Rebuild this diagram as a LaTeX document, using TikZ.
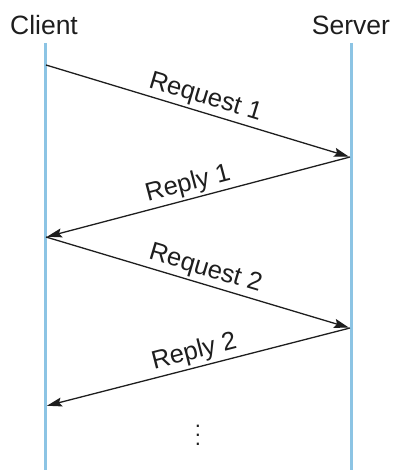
\documentclass[tikz,border=0pt]{standalone}
\usepackage{fontspec}
\setmainfont{Liberation Sans}
\usetikzlibrary{arrows.meta}
\definecolor{lifeblue}{RGB}{140,196,228}
\definecolor{inkc}{RGB}{30,30,30}
\tikzset{
  lifeline/.style={draw=lifeblue, line width=3pt},
  msg/.style={draw=inkc, line width=1.3pt, -{Stealth[length=15pt,width=9pt,inset=2.5pt]}, shorten >=1pt},
  msglabel/.style={sloped, above, font=\fontsize{25.5}{30}\selectfont, text=inkc, inner sep=2.5pt},
  title/.style={anchor=base, font=\fontsize{26.5}{30}\selectfont, text=inkc}
}
\begin{document}
\begin{tikzpicture}[x=1pt,y=-1pt]
\useasboundingbox (0,0) rectangle (393,470);
\node[title] (client) at (44,35) {Client};
\node[title] (server) at (351,35) {Server};
\coordinate (ctop) at (45,43);
\coordinate (cbot) at (45,470);
\coordinate (stop) at (351,43);
\coordinate (sbot) at (351,470);
\draw[lifeline] (ctop) -- (cbot);
\draw[lifeline] (stop) -- (sbot);
\coordinate (c1) at (46,65);
\coordinate (s1) at (350,157);
\coordinate (c2) at (46,237);
\coordinate (s2) at (350,328);
\coordinate (c3) at (46,406);
\draw[msg] (c1) -- node[msglabel, pos=0.51] (l1) {Request 1} (s1);
\draw[msg] (s1) -- node[msglabel, pos=0.52] (l2) {Reply 1} (c2);
\draw[msg] (c2) -- node[msglabel, pos=0.51] (l3) {Request 2} (s2);
\draw[msg] (s2) -- node[msglabel, pos=0.5] (l4) {Reply 2} (c3);
\node[text=inkc, inner sep=0pt] (dots) at (198,429) {\scalebox{2.2}{$\vdots$}};
\end{tikzpicture}
\end{document}
